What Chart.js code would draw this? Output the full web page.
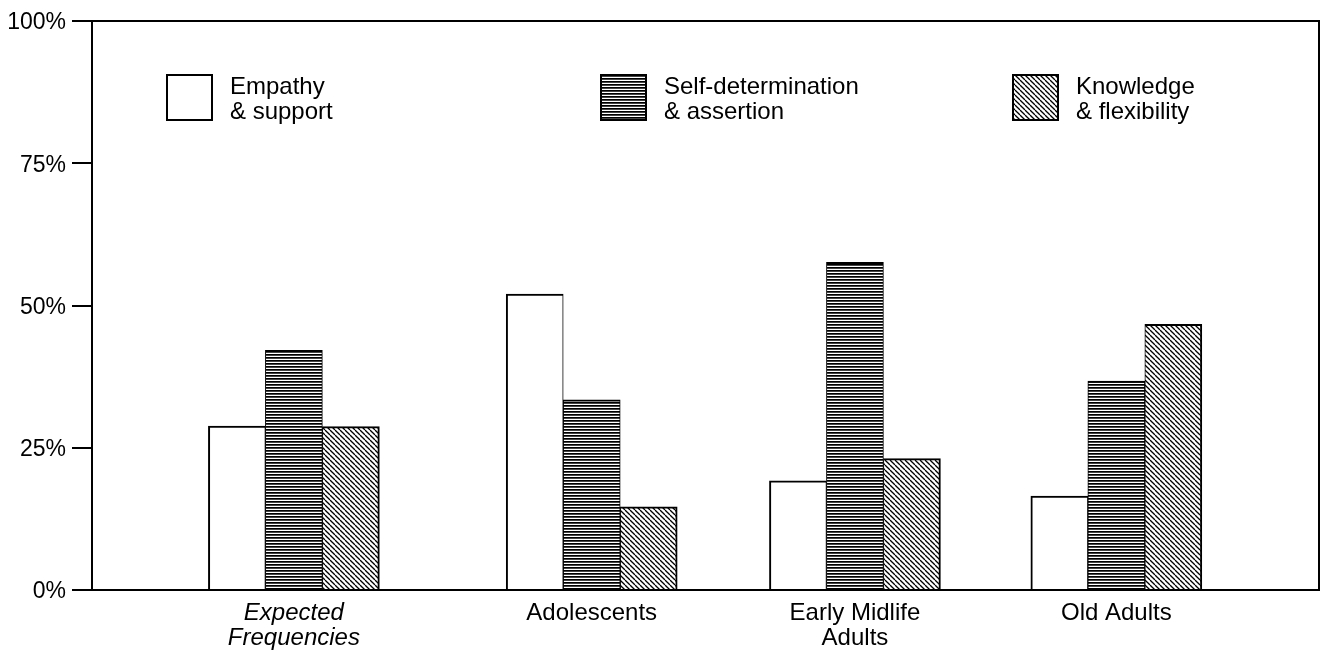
<!DOCTYPE html>
<html>
<head>
<meta charset="utf-8">
<title>Strengths by age group</title>
<script src="https://cdn.jsdelivr.net/npm/chart.js@4.4.1/dist/chart.umd.min.js"></script>
<style>
  body { margin: 0; background: #fff; }
  #chart { display: block; }
</style>
</head>
<body>
<canvas id="chart" width="1321" height="651"></canvas>
<script>
const categories = [['Expected', 'Frequencies'], 'Adolescents', ['Early Midlife', 'Adults'], 'Old Adults'];
const seriesNames = [['Empathy', '& support'], ['Self-determination', '& assertion'], ['Knowledge', '& flexibility']];
const empathy = [28.8, 52.0, 19.2, 16.5];
const selfDetermination = [42.1, 33.4, 57.6, 36.7];
const knowledge = [28.7, 14.6, 23.1, 46.7];
const yTicks = [0, 25, 50, 75, 100];

// the groups are not evenly spaced in the original, so the x axis is linear
const groupPos = [0.77, 1.906, 2.91, 3.907];

const FONT = '"Liberation Sans", Arial, sans-serif';

function hLines() {
    const c = document.createElement('canvas');
    c.width = 4; c.height = 3;
    const g = c.getContext('2d');
    g.fillStyle = '#fff'; g.fillRect(0, 0, 4, 3);
    g.fillStyle = '#000'; g.fillRect(0, 0, 4, 1);
    g.fillStyle = '#444'; g.fillRect(0, 1, 4, 1);
    return g.createPattern(c, 'repeat');
}

function diagLines() {
    const c = document.createElement('canvas');
    c.width = 5; c.height = 5;
    const g = c.getContext('2d');
    g.fillStyle = '#fff'; g.fillRect(0, 0, 5, 5);
    g.strokeStyle = '#000'; g.lineWidth = 1.3;
    for (const off of [-5, 0, 5]) {
        g.beginPath(); g.moveTo(off, 0); g.lineTo(off + 5, 5); g.stroke();
    }
    return g.createPattern(c, 'repeat');
}

const fills = ['#ffffff', hLines(), diagLines()];
// inner edges are thinner so two touching bars show one line
const sides = [
    {top: 2, left: 2, right: 1, bottom: 0},
    {top: 2, left: 1, right: 1, bottom: 0},
    {top: 2, left: 1, right: 2, bottom: 0}
];

const datasets = [empathy, selfDetermination, knowledge].map((vals, k) => ({
    label: seriesNames[k].join(' '),
    data: vals.map((v, i) => ({x: groupPos[i], y: v})),
    backgroundColor: fills[k],
    borderColor: '#000',
    borderWidth: sides[k],
    borderSkipped: false,
    barThickness: 57
}));

//box around the plot
const framePlugin = {
    id: 'frame',
    afterDraw(chart) {
        const a = chart.chartArea, ctx = chart.ctx;
        ctx.save();
        ctx.strokeStyle = '#000';
        ctx.lineWidth = 2;
        ctx.strokeRect(a.left, a.top, a.right - a.left, a.bottom - a.top);
        ctx.restore();
    }
};

//legend inside the plot, two lines per entry
const legendPlugin = {
    id: 'boxLegend',
    afterDraw(chart) {
        const ctx = chart.ctx;
        const boxX = [166, 600, 1012];
        const boxY = 74, size = 47;
        ctx.save();
        ctx.font = '24px ' + FONT;
        ctx.textBaseline = 'middle';
        seriesNames.forEach((lines, k) => {
            ctx.fillStyle = fills[k];
            ctx.fillRect(boxX[k], boxY, size, size);
            ctx.strokeStyle = '#000';
            ctx.lineWidth = 2;
            ctx.strokeRect(boxX[k] + 1, boxY + 1, size - 2, size - 2);
            ctx.fillStyle = '#000';
            lines.forEach((t, j) => ctx.fillText(t, boxX[k] + 64, boxY + 13 + j * 25));
        });
        ctx.restore();
    }
};

new Chart(document.getElementById('chart'), {
    type: 'bar',
    data: { datasets: datasets },
    options: {
        responsive: false,
        animation: false,
        layout: { padding: { top: 21, right: 2, left: 0, bottom: 0 } },
        plugins: {
            legend: { display: false },
            tooltip: { enabled: false }
        },
        scales: {
            x: {
                type: 'linear',
                min: 0,
                max: 4.68,
                offset: false,
                bounds: 'data',
                afterBuildTicks: s => { s.ticks = groupPos.map(v => ({value: v})); },
                afterFit: s => { s.height = 61; },
                ticks: {
                    autoSkip: false,
                    maxRotation: 0,
                    padding: 11,
                    color: '#000',
                    callback: (v, i) => categories[i],
                    font: ctx => ({
                        family: FONT,
                        size: 24,
                        lineHeight: 1.05,
                        style: ctx.index === 0 ? 'italic' : 'normal'
                    })
                },
                grid: { display: false, drawTicks: false, offset: false },
                border: { color: '#000', width: 2 }
            },
            y: {
                min: 0,
                max: 100,
                afterBuildTicks: s => { s.ticks = yTicks.map(v => ({value: v})); },
                afterFit: s => { s.width = 92; },
                ticks: {
                    padding: 6,
                    labelOffset: 2,
                    color: '#000',
                    font: { family: FONT, size: 23 },
                    callback: v => v + '%'
                },
                grid: { drawOnChartArea: false, tickLength: 20, color: '#000', lineWidth: 2 },
                border: { color: '#000', width: 2 }
            }
        }
    },
    plugins: [framePlugin, legendPlugin]
});
</script>
</body>
</html>
